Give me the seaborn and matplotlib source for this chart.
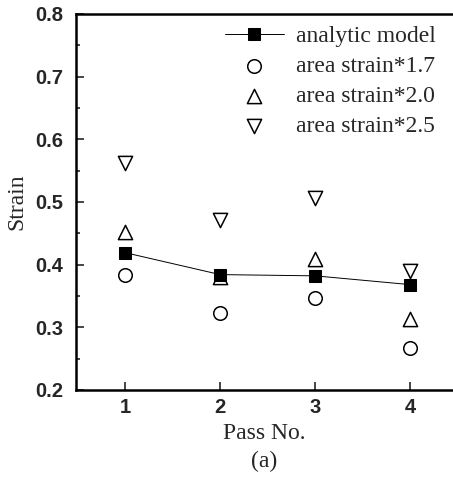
import matplotlib
matplotlib.use("Agg")
import matplotlib.pyplot as plt
import seaborn as sns
import pandas as pd
from matplotlib.ticker import MultipleLocator

passes = [1, 2, 3, 4]
analytic = [0.419, 0.384, 0.382, 0.368]
strain_17 = [0.384, 0.323, 0.347, 0.267]
strain_20 = [0.452, 0.380, 0.409, 0.313]
strain_25 = [0.562, 0.471, 0.506, 0.389]

sns.set_style("ticks")
serif = ["Liberation Serif", "DejaVu Serif"]
sans = ["Liberation Sans", "DejaVu Sans"]

fig = plt.figure(figsize=(4.53, 4.79), dpi=100)
ax = fig.add_axes([0.168, 0.186, 0.832, 0.785])

df = pd.DataFrame({"p": passes, "a": analytic, "s17": strain_17, "s20": strain_20, "s25": strain_25})

sns.lineplot(data=df, x="p", y="a", ax=ax, color="black", lw=0.7, marker="s",
             markersize=8.5, markeredgecolor="black", markerfacecolor="black",
             label="analytic model", zorder=3)
sns.scatterplot(data=df, x="p", y="s17", ax=ax, marker="o", s=95, facecolor="white",
                edgecolor="black", linewidth=1.1, label="area strain*1.7", zorder=2)
sns.scatterplot(data=df, x="p", y="s20", ax=ax, marker="^", s=105, facecolor="white",
                edgecolor="black", linewidth=1.1, label="area strain*2.0", zorder=2)
sns.scatterplot(data=df, x="p", y="s25", ax=ax, marker="v", s=105, facecolor="white",
                edgecolor="black", linewidth=1.1, label="area strain*2.5", zorder=2)

ax.set_xlim(0.484, 4.45)
ax.set_ylim(0.2, 0.8)
ax.set_xticks(passes)
yt = [0.2, 0.3, 0.4, 0.5, 0.6, 0.7, 0.8]
ax.set_yticks(yt)
ax.set_yticklabels([f"{v:.1f}" for v in yt])
ax.yaxis.set_minor_locator(MultipleLocator(0.05))
ax.tick_params(axis="both", which="both", direction="in", width=1.2)
ax.tick_params(axis="both", which="major", length=6, labelsize=14.5)
ax.tick_params(axis="y", which="major", pad=9)
ax.tick_params(axis="x", which="major", pad=6)
ax.tick_params(axis="y", which="minor", length=3)
for lab in ax.get_xticklabels() + ax.get_yticklabels():
    lab.set_family(sans)
    lab.set_fontweight("bold")

for s in ["left", "bottom", "top"]:
    ax.spines[s].set_linewidth(1.8)
    ax.spines[s].set_color("black")
ax.spines["right"].set_visible(False)

ax.set_xlabel("Pass No.\n(a)", family=serif, fontsize=17, linespacing=1.45, labelpad=4)
ax.set_ylabel("Strain", family=serif, fontsize=17, labelpad=6)

leg = ax.legend(loc="upper right", frameon=False, prop={"family": serif, "size": 17},
                handlelength=2.5, handletextpad=0.5, labelspacing=0.36,
                borderaxespad=0.1, bbox_to_anchor=(0.985, 1.0))

fig.savefig("out.png", dpi=100)
